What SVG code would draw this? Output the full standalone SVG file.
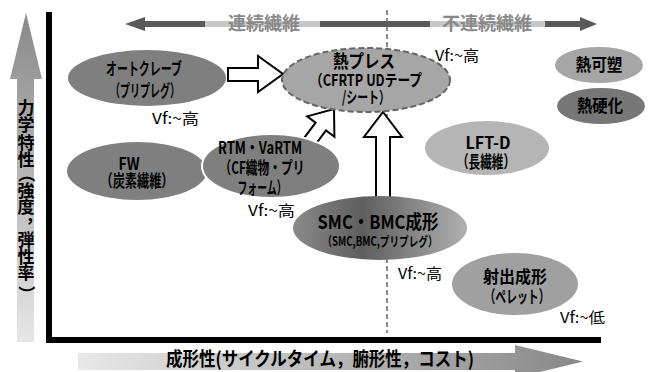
<svg xmlns="http://www.w3.org/2000/svg" width="649" height="372" viewBox="0 0 649 372">
<defs>
  <linearGradient id="gV" gradientUnits="userSpaceOnUse" x1="0" y1="13" x2="0" y2="342">
    <stop offset="0" stop-color="#888888"/>
    <stop offset="0.22" stop-color="#9e9e9e"/>
    <stop offset="1" stop-color="#e6e6e6"/>
  </linearGradient>
  <linearGradient id="gH" gradientUnits="userSpaceOnUse" x1="78" y1="0" x2="583" y2="0">
    <stop offset="0" stop-color="#e8e8e8"/>
    <stop offset="1" stop-color="#888888"/>
  </linearGradient>
  <linearGradient id="gSMC" x1="0" y1="0" x2="1" y2="0">
    <stop offset="0" stop-color="#8a8a8a"/>
    <stop offset="0.4" stop-color="#5e5e5e"/>
    <stop offset="1" stop-color="#b0b0b0"/>
  </linearGradient>
</defs>
<style>
  .t{font-family:"Noto Sans CJK JP","Noto Sans",sans-serif;font-weight:700;fill:#000;text-anchor:middle}
  .v{font-family:"Noto Sans CJK JP","Noto Sans",sans-serif;font-weight:700;fill:#000;text-anchor:middle;font-size:17px}
  .vf{font-family:"Noto Sans CJK JP","Noto Sans",sans-serif;font-size:15px;fill:#000}
  .ax{font-family:"Noto Sans CJK JP","Noto Sans",sans-serif;font-weight:700;fill:#8a8a8a;font-size:18px;text-anchor:middle}
  .conn{fill:#fff;stroke:#000;stroke-width:2;stroke-linejoin:miter}
  .dark{fill:#595959}
  .light{fill:#c8c8c8}
</style>

<g id="background">
  <path d="M26,13 L42,79 L34,79 L34,342 L17,342 L17,79 L10,79 Z" fill="url(#gV)"/>
  <g id="y-axis-label">
    <text class="v" x="26" y="114">力</text>
    <text class="v" x="26" y="131">学</text>
    <text class="v" x="26" y="149">特</text>
    <text class="v" x="26" y="166">性</text>
    <text class="v" transform="translate(26,178) rotate(90)" x="-4" y="6">（</text>
    <text class="v" x="26" y="197">強</text>
    <text class="v" x="26" y="213">度</text>
    <text class="v" x="34" y="222">，</text>
    <text class="v" x="26" y="246">弾</text>
    <text class="v" x="26" y="263">性</text>
    <text class="v" x="26" y="279">率</text>
    <text class="v" transform="translate(26,290) rotate(90)" x="4" y="6">）</text>
  </g>
  <path d="M78,353 L515,353 L515,345 L583,361.5 L515,378 L515,370 L78,370 Z" fill="url(#gH)"/>
  <text class="t" x="320" y="366" font-size="19" textLength="308" lengthAdjust="spacingAndGlyphs">成形性(サイクルタイム，腑形性，コスト)</text>
  <path d="M49,12 L49,340 L601,340" fill="none" stroke="#000" stroke-width="6"/>
  <path class="dark" d="M125,24 L145,17 L145,21 L205,21 L205,27 L145,27 L145,31 Z"/>
  <rect class="light" x="205" y="21" width="115" height="6"/>
  <rect class="dark" x="320" y="21" width="110" height="6"/>
  <rect class="light" x="430" y="21" width="115" height="6"/>
  <path class="dark" d="M545,21 L580,21 L580,17 L597,24 L580,31 L580,27 L545,27 Z"/>
  <text class="ax" x="264" y="30" textLength="72" lengthAdjust="spacingAndGlyphs">連続繊維</text>
  <text class="ax" x="487" y="30" textLength="90" lengthAdjust="spacingAndGlyphs">不連続繊維</text>
  <line x1="387" y1="10" x2="387" y2="333" stroke="#666" stroke-width="1.5" stroke-dasharray="5,3"/>
</g>

<g id="connectors">
  <path class="conn" d="M228,68 L258,68 L258,56 L283,74 L258,92 L258,81 L228,81 Z"/>
  <path class="conn" d="M334,109 L334.4,136.8 L326,130.5 L309.2,152.9 L298.8,145.1 L315.6,122.7 L307.2,116.4 Z"/>
  <path class="conn" d="M383,112 L402,137 L390,137 L390,200 L376,200 L376,137 L364,137 Z"/>
</g>

<g id="autoclave">
  <ellipse cx="147" cy="78" rx="79" ry="28" fill="#7f7f7f"/>
  <text class="t" x="144" y="75" font-size="17" textLength="76" lengthAdjust="spacingAndGlyphs">オートクレーブ</text>
  <text class="t" x="145" y="97" font-size="17" textLength="70" lengthAdjust="spacingAndGlyphs">（プリプレグ）</text>
  <text class="vf" x="152" y="124" textLength="47" lengthAdjust="spacingAndGlyphs">Vf:~高</text>
</g>

<g id="fw">
  <ellipse cx="137" cy="171" rx="70" ry="29" fill="#7f7f7f"/>
  <text class="t" x="129" y="170" font-size="17" textLength="21" lengthAdjust="spacingAndGlyphs">FW</text>
  <text class="t" x="137" y="187" font-size="17" textLength="73" lengthAdjust="spacingAndGlyphs">（炭素繊維）</text>
</g>

<g id="rtm">
  <ellipse cx="271" cy="166" rx="69" ry="32" fill="#7f7f7f" stroke="#fff" stroke-width="2"/>
  <text class="t" x="260" y="154" font-size="17" textLength="84" lengthAdjust="spacingAndGlyphs">RTM・VaRTM</text>
  <text class="t" x="262" y="174" font-size="17" textLength="85" lengthAdjust="spacingAndGlyphs">（CF織物・プリ</text>
  <text class="t" x="262" y="194" font-size="17" textLength="49" lengthAdjust="spacingAndGlyphs">フォーム）</text>
  <text class="vf" x="248" y="216" textLength="47" lengthAdjust="spacingAndGlyphs">Vf:~高</text>
</g>

<g id="hotpress">
  <ellipse cx="366" cy="80" rx="84" ry="32" fill="#a6a6a6" stroke="#666" stroke-width="2" stroke-dasharray="6,3"/>
  <text class="t" x="364" y="68" font-size="18" textLength="62" lengthAdjust="spacingAndGlyphs">熱プレス</text>
  <text class="t" x="366" y="86" font-size="16" textLength="112" lengthAdjust="spacingAndGlyphs">（CFRTP UDテープ</text>
  <text class="t" x="366" y="103" font-size="16" textLength="48" lengthAdjust="spacingAndGlyphs">/シート）</text>
  <text class="vf" x="435" y="61" textLength="44" lengthAdjust="spacingAndGlyphs">Vf:~高</text>
</g>

<g id="thermoplastic">
  <ellipse cx="599" cy="65" rx="44" ry="18" fill="#a6a6a6"/>
  <text class="t" x="599" y="71" font-size="17" textLength="47" lengthAdjust="spacingAndGlyphs">熱可塑</text>
</g>

<g id="thermoset">
  <ellipse cx="601" cy="106" rx="44" ry="18" fill="#777777"/>
  <text class="t" x="600" y="112" font-size="17" textLength="46" lengthAdjust="spacingAndGlyphs">熱硬化</text>
</g>

<g id="lftd">
  <ellipse cx="487" cy="148" rx="62" ry="27" fill="#b5b5b5"/>
  <text class="t" x="488" y="149" font-size="17" textLength="45" lengthAdjust="spacingAndGlyphs">LFT-D</text>
  <text class="t" x="486" y="168" font-size="17" textLength="58" lengthAdjust="spacingAndGlyphs">（長繊維）</text>
</g>

<g id="smc">
  <ellipse cx="380" cy="228" rx="87" ry="32" fill="url(#gSMC)"/>
  <text class="t" x="378" y="229" font-size="19" textLength="121" lengthAdjust="spacingAndGlyphs">SMC・BMC成形</text>
  <text class="t" x="380" y="246" font-size="13" textLength="115" lengthAdjust="spacingAndGlyphs">（SMC,BMC,プリプレグ）</text>
  <text class="vf" x="398" y="279" textLength="44" lengthAdjust="spacingAndGlyphs">Vf:~高</text>
</g>

<g id="injection">
  <ellipse cx="515" cy="284" rx="63" ry="31" fill="#a0a0a0"/>
  <text class="t" x="515" y="283" font-size="17" textLength="64" lengthAdjust="spacingAndGlyphs">射出成形</text>
  <text class="t" x="517" y="303" font-size="17" textLength="65" lengthAdjust="spacingAndGlyphs">（ペレット）</text>
  <text class="vf" x="560" y="323" textLength="45" lengthAdjust="spacingAndGlyphs">Vf:~低</text>
</g>
</svg>
